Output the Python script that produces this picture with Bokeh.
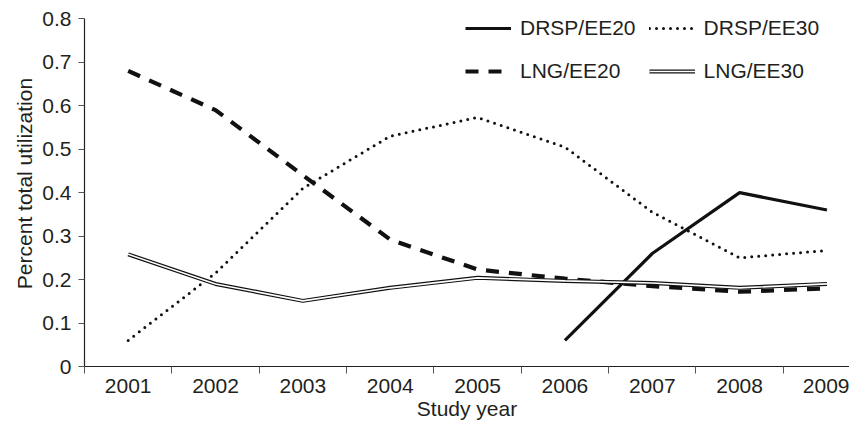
from bokeh.plotting import figure
from bokeh.models import Range1d, FixedTicker, Legend, LegendItem
from bokeh.embed import file_html
from bokeh.resources import INLINE

years = ["2001", "2002", "2003", "2004", "2005", "2006", "2007", "2008", "2009"]
drsp_ee20_years = ["2006", "2007", "2008", "2009"]
drsp_ee20 = [0.06, 0.26, 0.40, 0.36]
drsp_ee30 = [0.06, 0.215, 0.41, 0.53, 0.573, 0.505, 0.355, 0.25, 0.267]
lng_ee20 = [0.68, 0.59, 0.44, 0.292, 0.223, 0.202, 0.185, 0.172, 0.18]
lng_ee30 = [0.258, 0.19, 0.151, 0.181, 0.204, 0.197, 0.192, 0.181, 0.19]
y_ticks = [0, 0.1, 0.2, 0.3, 0.4, 0.5, 0.6, 0.7, 0.8]

FONT = "Liberation Sans"
TXT = "#231f20"

x_all = [i + 1 for i in range(len(years))]
x_e20 = [years.index(y) + 1 for y in drsp_ee20_years]

p = figure(width=849, height=422, output_backend="svg", toolbar_location=None,
           x_range=Range1d(0.5, 9.258), y_range=Range1d(0, 0.8421),
           min_border_left=84, min_border_top=0, min_border_right=0, min_border_bottom=56)
p.outline_line_color = None
p.grid.visible = False
p.background_fill_color = "white"

r1 = p.line(x_e20, drsp_ee20, line_color="#111111", line_width=3.2)
r2 = p.line(x_all, drsp_ee30, line_color="#111111", line_width=3, line_dash="0 7", line_cap="round")
r3 = p.line(x_all, lng_ee20, line_color="#111111", line_width=4.2, line_dash="13 10")
r4a = p.line(x_all, lng_ee30, line_color="#111111", line_width=4)
r4b = p.line(x_all, lng_ee30, line_color="white", line_width=1.6)

xa = p.xaxis[0]
xa.ticker = FixedTicker(ticks=x_all, minor_ticks=[i + 0.5 for i in range(len(years))])
xa.major_label_overrides = {i + 1: y for i, y in enumerate(years)}
xa.major_tick_in = 0
xa.major_tick_out = 0
xa.minor_tick_in = 0
xa.minor_tick_out = 7
xa.major_label_standoff = 5
xa.axis_label = "Study year"
xa.axis_label_standoff = 1

ya = p.yaxis[0]
ya.ticker = FixedTicker(ticks=y_ticks, minor_ticks=[])
ya.bounds = (0, 0.8)
ya.major_label_overrides = {0: "0"}
ya.major_tick_in = 0
ya.major_tick_out = 6
ya.minor_tick_out = 0
ya.minor_tick_in = 0
ya.major_label_standoff = 7
ya.axis_label = "Percent total utilization"
ya.axis_label_standoff = 3

for ax in (xa, ya):
    ax.axis_line_color = "#222222"
    ax.axis_line_width = 1.2
    ax.major_tick_line_color = "#555555"
    ax.minor_tick_line_color = "#555555"
    ax.major_label_text_font = FONT
    ax.major_label_text_font_size = "21px"
    ax.major_label_text_color = TXT
    ax.axis_label_text_font = FONT
    ax.axis_label_text_font_size = "21px"
    ax.axis_label_text_font_style = "normal"
    ax.axis_label_text_color = TXT

legend = Legend(items=[
    LegendItem(label="DRSP/EE20", renderers=[r1]),
    LegendItem(label="DRSP/EE30", renderers=[r2]),
    LegendItem(label="LNG/EE20", renderers=[r3]),
    LegendItem(label="LNG/EE30", renderers=[r4a, r4b]),
], orientation="horizontal", ncols=2, location=(381, 280),
    padding=0, margin=0, spacing=13, glyph_width=46, glyph_height=30,
    label_height=30, label_standoff=9, border_line_color=None,
    background_fill_alpha=0, label_text_font=FONT, label_text_font_size="21px",
    label_text_color=TXT)
p.add_layout(legend)

open("out.html", "w").write(file_html(p, INLINE))
